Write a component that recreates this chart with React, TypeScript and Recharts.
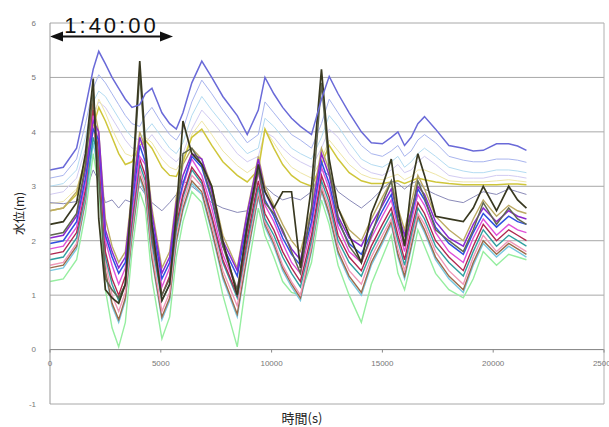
import { LineChart, Line, XAxis, YAxis, CartesianGrid, ReferenceLine } from "recharts";

// time (s)
const times = [
  0, 600, 1200, 1600, 1950, 2200, 2500, 2800, 3100, 3400,
  3700, 4050, 4300, 4600, 5050, 5400, 5700, 6000, 6400, 6850,
  7300, 7800, 8450, 8900, 9400, 9700, 10100, 10500, 10900, 11300,
  11800, 12250, 12600, 13000, 13500, 14050, 14500, 15000, 15400, 15700,
  16000, 16300, 16600, 16900, 17400, 18000, 18650, 19100, 19550, 20150,
  20700, 21100, 21500,
];

// upper (slowly decaying) stations
const blueTop = [3.3, 3.35, 3.7, 4.45, 5.15, 5.48, 5.25, 5.0, 4.8, 4.6, 4.45, 4.5, 4.7, 4.8, 4.35, 4.15, 4.05, 4.35, 4.9, 5.3, 5.0, 4.65, 4.3, 3.95, 4.4, 5.0, 4.7, 4.45, 4.25, 4.1, 3.95, 4.6, 5.02, 4.7, 4.35, 4.0, 3.8, 3.78, 3.9, 4.0, 3.75, 3.9, 4.15, 4.28, 4.05, 3.75, 3.7, 3.65, 3.66, 3.78, 3.78, 3.74, 3.66];
const paleBlue = [3.15, 3.2, 3.5, 4.15, 4.8, 5.05, 4.9, 4.7, 4.5, 4.3, 4.15, 4.1, 4.3, 4.45, 4.15, 3.95, 3.85, 4.05, 4.55, 4.95, 4.7, 4.4, 4.05, 3.8, 3.95, 4.55, 4.35, 4.15, 3.95, 3.85, 3.7, 4.15, 4.6, 4.35, 4.05, 3.75, 3.6, 3.55, 3.65, 3.75, 3.55, 3.65, 3.85, 3.95, 3.8, 3.55, 3.48, 3.45, 3.45, 3.5, 3.5, 3.48, 3.44];
const paleCyan = [3.0, 3.05, 3.3, 3.9, 4.55, 4.75, 4.65, 4.45, 4.25, 4.05, 3.9, 3.85, 4.0, 4.15, 3.9, 3.7, 3.6, 3.8, 4.3, 4.65, 4.4, 4.15, 3.8, 3.6, 3.7, 4.25, 4.1, 3.9, 3.7, 3.6, 3.5, 3.9, 4.3, 4.1, 3.8, 3.5, 3.4, 3.35, 3.45, 3.55, 3.35, 3.45, 3.6, 3.7, 3.55, 3.35, 3.28, 3.25, 3.25, 3.3, 3.3, 3.28, 3.25];
const paleLavender = [2.85, 2.9, 3.15, 3.7, 4.35, 4.55, 4.45, 4.25, 4.05, 3.85, 3.7, 3.7, 3.8, 3.95, 3.7, 3.55, 3.45, 3.6, 4.05, 4.4, 4.2, 3.95, 3.6, 3.45, 3.55, 4.0, 3.9, 3.7, 3.55, 3.45, 3.35, 3.7, 4.05, 3.9, 3.6, 3.35, 3.25, 3.2, 3.3, 3.4, 3.25, 3.3, 3.45, 3.55, 3.4, 3.2, 3.15, 3.15, 3.15, 3.2, 3.2, 3.18, 3.15];
const paleYellow = [2.68, 2.72, 2.95, 3.5, 4.2, 4.6, 4.35, 4.05, 3.8, 3.6, 3.55, 3.8, 3.9, 3.8, 3.5, 3.35, 3.3, 3.5, 3.95, 4.2, 3.95, 3.65, 3.38, 3.25, 3.4, 4.05, 3.8, 3.55, 3.35, 3.25, 3.15, 3.5, 3.85, 3.65, 3.4, 3.22, 3.15, 3.12, 3.18, 3.22, 3.12, 3.18, 3.3, 3.3, 3.22, 3.1, 3.08, 3.08, 3.08, 3.1, 3.12, 3.1, 3.08];
const yellow = [2.55, 2.6, 2.85, 3.4, 4.1, 4.45, 4.2, 3.9, 3.6, 3.4, 3.45, 3.75, 3.85, 3.7, 3.35, 3.2, 3.18, 3.45, 3.9, 4.05, 3.75, 3.45, 3.2, 3.08, 3.3, 4.05, 3.7, 3.4, 3.2, 3.08, 3.0, 3.4, 3.75, 3.5, 3.25, 3.1, 3.05, 3.05, 3.08, 3.1, 3.05, 3.1, 3.15, 3.12, 3.08, 3.05, 3.03, 3.03, 3.03, 3.03, 3.04, 3.04, 3.03];
const grayBlue = [2.7, 2.68, 2.72, 2.9, 3.3, 3.1, 2.7, 2.75, 2.6, 2.75, 2.7, 3.0, 2.85, 2.7, 2.55, 2.7, 2.85, 3.1, 3.0, 2.85, 2.7, 2.6, 2.52, 2.55, 2.9, 3.0, 2.85, 2.75, 2.8, 2.75, 2.9, 3.3, 3.2, 2.9, 2.75, 2.6, 2.75, 2.95, 3.1, 3.05, 2.95, 3.05, 3.1, 2.95, 2.85, 2.75, 2.7, 2.8, 2.9, 2.85, 2.95, 2.9, 2.85];

// oscillating stations (inner bay)
const tan = [2.55, 2.6, 2.9, 3.5, 4.5, 4.0, 2.4, 1.9, 1.6, 1.8, 2.9, 4.0, 3.7, 2.6, 1.5, 1.8, 2.8, 3.4, 3.7, 3.5, 3.0, 2.1, 1.5, 2.55, 3.55, 3.0, 2.65, 2.3, 2.0, 1.8, 2.6, 3.7, 3.3, 2.6, 2.2, 2.0, 2.4, 2.8, 3.1, 2.6, 2.2, 2.7, 3.2, 2.95, 2.45, 2.2, 2.0, 2.4, 2.75, 2.45, 2.65, 2.55, 2.5];
const green = [1.25, 1.3, 1.65, 2.5, 3.6, 3.0, 1.1, 0.4, 0.05, 0.5, 1.8, 2.9, 2.6, 1.3, 0.2, 0.6, 1.7, 2.35, 2.9, 2.7, 1.95, 1.0, 0.05, 1.4, 2.6, 2.1, 1.7, 1.25, 1.05, 1.0, 1.6, 2.75, 2.3, 1.55, 1.0, 0.5, 1.2, 1.7, 2.1, 1.4, 1.1, 1.6, 2.2, 1.9, 1.4, 1.1, 0.95, 1.3, 1.8, 1.55, 1.75, 1.7, 1.65];
const cyan = [1.45, 1.5, 1.85, 2.7, 3.8, 3.25, 1.4, 0.8, 0.5, 0.9, 2.05, 3.15, 2.85, 1.65, 0.55, 0.9, 1.95, 2.55, 3.05, 2.85, 2.15, 1.3, 0.6, 1.7, 2.8, 2.25, 1.9, 1.45, 1.15, 0.9, 1.8, 2.9, 2.45, 1.75, 1.3, 1.0, 1.55, 1.95, 2.3, 1.7, 1.3, 1.85, 2.4, 2.15, 1.65, 1.3, 1.05, 1.55, 1.95, 1.7, 1.9, 1.8, 1.7];
const brown = [1.5, 1.55, 1.9, 2.75, 4.6, 3.3, 1.45, 0.85, 0.55, 0.95, 2.1, 3.2, 2.9, 1.7, 0.6, 0.95, 2.0, 2.6, 3.1, 2.9, 2.2, 1.35, 0.65, 1.75, 2.85, 2.3, 1.95, 1.5, 1.2, 0.95, 1.85, 2.95, 2.5, 1.8, 1.35, 1.05, 1.6, 2.0, 2.35, 1.75, 1.35, 1.9, 2.45, 2.2, 1.7, 1.35, 1.1, 1.6, 2.0, 1.75, 1.95, 1.85, 1.75];
const pink = [1.55, 1.6, 1.95, 2.8, 4.1, 3.4, 1.6, 1.0, 0.7, 1.05, 2.2, 3.3, 3.0, 1.8, 0.7, 1.05, 2.1, 2.7, 3.2, 3.0, 2.3, 1.45, 0.8, 1.85, 2.9, 2.35, 2.0, 1.55, 1.25, 1.0, 1.9, 3.0, 2.6, 1.9, 1.45, 1.2, 1.7, 2.1, 2.4, 1.85, 1.45, 2.0, 2.5, 2.3, 1.8, 1.45, 1.2, 1.7, 2.1, 1.8, 2.0, 1.9, 1.8];
const teal = [1.65, 1.7, 2.05, 2.85, 3.9, 3.5, 1.7, 1.2, 0.9, 1.2, 2.3, 3.4, 3.1, 1.95, 0.9, 1.2, 2.2, 2.8, 3.3, 3.05, 2.4, 1.6, 0.95, 1.95, 3.0, 2.4, 2.1, 1.7, 1.4, 1.15, 2.0, 3.1, 2.7, 2.0, 1.6, 1.35, 1.8, 2.2, 2.5, 2.0, 1.55, 2.1, 2.6, 2.4, 1.9, 1.6, 1.35, 1.8, 2.2, 1.9, 2.1, 2.0, 1.9];
const maroon = [1.75, 1.8, 2.15, 2.95, 4.4, 3.6, 1.8, 1.3, 1.0, 1.35, 2.4, 3.5, 3.2, 2.05, 1.0, 1.35, 2.3, 2.85, 3.35, 3.1, 2.45, 1.65, 1.0, 2.05, 3.1, 2.5, 2.2, 1.8, 1.5, 1.25, 2.1, 3.2, 2.8, 2.1, 1.7, 1.45, 1.9, 2.3, 2.6, 2.1, 1.65, 2.2, 2.7, 2.5, 2.0, 1.7, 1.45, 1.9, 2.3, 2.0, 2.2, 2.1, 2.0];
const magenta = [1.85, 1.9, 2.25, 3.05, 4.3, 3.8, 2.0, 1.55, 1.2, 1.5, 2.5, 3.55, 3.4, 2.25, 1.15, 1.5, 2.45, 3.0, 3.5, 3.2, 2.6, 1.75, 1.1, 2.2, 3.25, 2.65, 2.35, 1.95, 1.6, 1.4, 2.25, 3.35, 2.95, 2.25, 1.8, 1.6, 2.05, 2.45, 2.75, 2.25, 1.8, 2.35, 2.85, 2.65, 2.15, 1.8, 1.6, 2.05, 2.4, 2.1, 2.3, 2.2, 2.15];
const blue = [1.95, 2.0, 2.35, 3.15, 4.05, 3.85, 2.1, 1.7, 1.4, 1.6, 2.65, 3.75, 3.45, 2.35, 1.3, 1.6, 2.55, 3.05, 3.55, 3.35, 2.75, 1.9, 1.35, 2.35, 3.35, 2.75, 2.45, 2.05, 1.75, 1.55, 2.35, 3.45, 3.05, 2.35, 1.95, 1.75, 2.15, 2.55, 2.85, 2.35, 1.95, 2.45, 2.95, 2.75, 2.25, 1.95, 1.75, 2.15, 2.5, 2.25, 2.45, 2.35, 2.3];
const purple = [2.05, 2.1, 2.45, 3.3, 4.2, 4.0, 2.2, 1.8, 1.5, 1.7, 2.8, 3.9, 3.6, 2.5, 1.4, 1.7, 2.7, 3.2, 3.6, 3.5, 2.9, 2.0, 1.45, 2.5, 3.5, 2.9, 2.55, 2.15, 1.85, 1.65, 2.5, 3.6, 3.2, 2.45, 2.05, 1.9, 2.3, 2.65, 2.95, 2.5, 2.1, 2.55, 3.0, 2.85, 2.35, 2.05, 1.9, 2.3, 2.6, 2.35, 2.55, 2.45, 2.4];
const darkGray = [2.1, 2.15, 2.5, 3.4, 4.75, 3.2, 1.3, 1.1, 0.95, 1.2, 2.8, 5.1, 3.6, 2.1, 1.0, 1.3, 2.3, 3.6, 3.7, 3.4, 2.8, 1.9, 1.1, 2.2, 3.3, 2.7, 2.5, 2.2, 1.8, 1.4, 2.6, 4.9, 3.3, 2.4, 1.9, 1.6, 2.1, 2.7, 3.1, 2.4, 1.9, 2.5, 3.1, 2.8, 2.2, 2.0, 1.8, 2.2, 2.7, 2.3, 2.6, 2.4, 2.3];
const darkOlive = [2.3, 2.35, 2.7, 3.6, 4.98, 2.4, 1.1, 0.95, 0.85, 1.2, 3.0, 5.3, 3.8, 2.3, 0.9, 1.2, 2.5, 4.2, 3.6, 3.4, 3.0, 2.0, 1.0, 2.3, 3.4, 2.9, 2.6, 2.9, 2.9, 1.5, 3.0, 5.15, 3.5, 2.6, 2.1, 1.6, 2.5, 3.0, 3.5, 2.6, 1.9, 3.0, 3.6, 3.2, 2.45, 2.4, 2.35, 2.6, 3.0, 2.55, 3.0, 2.75, 2.6];

const xTicks = [0, 5000, 10000, 15000, 20000, 25000];
const yTicks = [-1, 0, 1, 2, 3, 4, 5, 6];

const series = [
  { key: "paleLavender", values: paleLavender, color: "#d2cbf2", width: 1 },
  { key: "paleCyan", values: paleCyan, color: "#b4dcf2", width: 1 },
  { key: "paleBlue", values: paleBlue, color: "#a8b4ee", width: 1 },
  { key: "paleYellow", values: paleYellow, color: "#eee6a6", width: 1 },
  { key: "yellow", values: yellow, color: "#cfc63a", width: 1.5 },
  { key: "grayBlue", values: grayBlue, color: "#8a8ab8", width: 1 },
  { key: "tan", values: tan, color: "#bcaa64", width: 1.4 },
  { key: "green", values: green, color: "#96eea0", width: 1.4 },
  { key: "cyan", values: cyan, color: "#78c8e0", width: 1.4 },
  { key: "brown", values: brown, color: "#9a6a4a", width: 1.4 },
  { key: "pink", values: pink, color: "#f098b8", width: 1.4 },
  { key: "teal", values: teal, color: "#30a0a0", width: 1.4 },
  { key: "maroon", values: maroon, color: "#b02850", width: 1.4 },
  { key: "magenta", values: magenta, color: "#e050d8", width: 1.4 },
  { key: "blue", values: blue, color: "#3050e0", width: 1.5 },
  { key: "purple", values: purple, color: "#8a2ad0", width: 1.5 },
  { key: "darkGray", values: darkGray, color: "#606850", width: 1.5 },
  { key: "darkOlive", values: darkOlive, color: "#383820", width: 1.7 },
  { key: "blueTop", values: blueTop, color: "#6a6ad8", width: 1.5 },
];

const data = times.map((t, i) => {
  const row: Record<string, number> = { t };
  series.forEach((s) => {
    row[s.key] = s.values[i];
  });
  return row;
});

const W = 609;
const H = 427;
const TOP = 23;
const BOTTOM = 23;
const YW = 50;
const zeroY = TOP + ((H - TOP - BOTTOM) * 6) / 7;

function XTick(props: any) {
  const { x, payload } = props;
  return (
    <g>
      <line x1={x} x2={x} y1={zeroY} y2={zeroY + 3} stroke="#888" />
      <text x={x} y={zeroY + 16} textAnchor="middle" fontSize={8} fill="#777" fontFamily="Liberation Sans">
        {payload.value}
      </text>
    </g>
  );
}

function ArrowShape(props: any) {
  const { x1, y1, x2 } = props;
  return (
    <g>
      <line x1={x1 + 8} y1={y1} x2={x2 - 8} y2={y1} stroke="#111" strokeWidth={2} />
      <polygon points={`${x1},${y1} ${x1 + 13},${y1 - 5} ${x1 + 13},${y1 + 5}`} fill="#111" />
      <polygon points={`${x2},${y1} ${x2 - 13},${y1 - 5} ${x2 - 13},${y1 + 5}`} fill="#111" />
      <text x={(x1 + x2) / 2} y={y1 - 4} textAnchor="middle" fontSize={22} letterSpacing={3} fill="#111" fontFamily="Liberation Sans">
        1:40:00
      </text>
    </g>
  );
}

export default function App() {
  return (
    <div style={{ position: "absolute", left: 0, top: 0, width: W, height: H, background: "#fff" }}>
      <LineChart width={W} height={H} data={data} margin={{ top: TOP, right: 5, bottom: 0, left: 0 }}>
        <CartesianGrid vertical={false} stroke="#a8a8a8" />
        <XAxis
          dataKey="t"
          type="number"
          domain={[0, 25000]}
          ticks={xTicks}
          interval={0}
          height={BOTTOM}
          axisLine={false}
          tickLine={false}
          tick={<XTick />}
          label={{
            content: (p: any) => {
              const vb = p.viewBox;
              return (
                <text x={vb.x + vb.width / 2 - 25} y={vb.y + 19} textAnchor="middle" fontSize={13} fill="#222" fontFamily="Noto Sans CJK JP">
                  時間(s)
                </text>
              );
            },
          }}
        />
        <YAxis
          type="number"
          domain={[-1, 6]}
          ticks={yTicks}
          interval={0}
          width={YW}
          axisLine={{ stroke: "#999" }}
          tickLine={false}
          tickMargin={8}
          tick={{ fontSize: 8, fill: "#777", fontFamily: "Liberation Sans" }}
          label={{
            content: (p: any) => {
              const vb = p.viewBox;
              const cx = vb.x + 18;
              const cy = vb.y + vb.height / 2;
              return (
                <text x={cx} y={cy} transform={`rotate(-90, ${cx}, ${cy})`} textAnchor="middle" dominantBaseline="central" fontSize={12} fill="#222" fontFamily="Noto Sans CJK JP">
                  水位(m)
                </text>
              );
            },
          }}
        />
        <ReferenceLine y={0} stroke="#8a8a8a" />
        <ReferenceLine x={25000} stroke="#b0b0b0" />
        {series.map((s) => (
          <Line
            key={s.key}
            dataKey={s.key}
            type="linear"
            stroke={s.color}
            strokeWidth={s.width}
            dot={false}
            isAnimationActive={false}
          />
        ))}
        <ReferenceLine
          segment={[
            { x: 0, y: 5.75 },
            { x: 5550, y: 5.75 },
          ]}
          ifOverflow="visible"
          shape={ArrowShape}
        />
      </LineChart>
    </div>
  );
}
